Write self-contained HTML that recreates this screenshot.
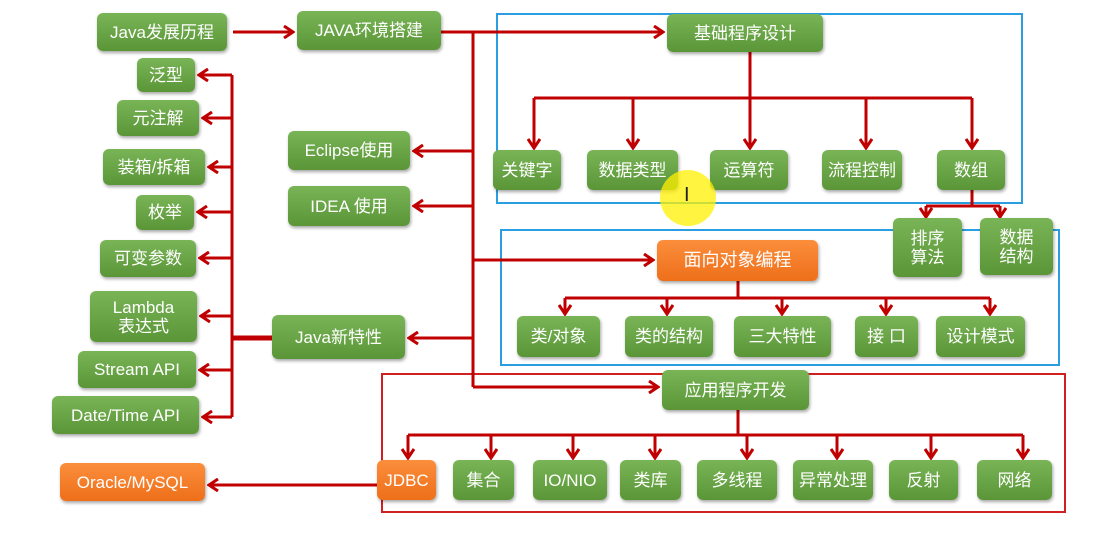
<!DOCTYPE html>
<html><head><meta charset="utf-8">
<style>
html,body{margin:0;padding:0;background:#fff;}
body{width:1111px;height:536px;position:relative;overflow:hidden;font-family:"Liberation Sans","Noto Sans CJK SC",sans-serif;}
.n{position:absolute;box-sizing:border-box;border-radius:6px;background:linear-gradient(#79b557,#5a9637);color:#fff;display:flex;align-items:center;justify-content:center;text-align:center;font-size:17px;line-height:19px;box-shadow:1px 2px 3px rgba(0,0,0,0.35);}
.o{background:linear-gradient(#fb8e3c,#ee6f1a);}
.b{position:absolute;box-sizing:border-box;}
svg{position:absolute;left:0;top:0;}
</style></head><body>
<div class="b" style="left:496px;top:13px;width:527px;height:191px;border:2px solid #2a9ee0"></div>
<div class="b" style="left:500px;top:229px;width:560px;height:137px;border:2px solid #2a9ee0"></div>
<div class="b" style="left:381px;top:373px;width:685px;height:140px;border:2px solid #d02020"></div>
<svg width="1111" height="536">
<defs><marker id="a" markerWidth="12" markerHeight="14" refX="10" refY="7" orient="auto" markerUnits="userSpaceOnUse"><path d="M1,1 L10,7 L1,13" fill="none" stroke="#c00000" stroke-width="3"/></marker></defs>
<g stroke="#c00000" stroke-width="3" fill="none">
<line x1="233" y1="32" x2="293" y2="32" marker-end="url(#a)"/>
<polyline points="441,32 473,32 473,387"/>
<line x1="473" y1="32" x2="663" y2="32" marker-end="url(#a)"/>
<line x1="473" y1="151" x2="414" y2="151" marker-end="url(#a)"/>
<line x1="473" y1="206" x2="414" y2="206" marker-end="url(#a)"/>
<line x1="473" y1="260" x2="653" y2="260" marker-end="url(#a)"/>
<line x1="473" y1="338" x2="409" y2="338" marker-end="url(#a)"/>
<line x1="473" y1="387" x2="658" y2="387" marker-end="url(#a)"/>
<line x1="232" y1="75" x2="232" y2="417"/>
<line x1="232" y1="338" x2="272" y2="338" stroke-width="5"/>
<line x1="232" y1="75" x2="199" y2="75" marker-end="url(#a)"/>
<line x1="232" y1="118" x2="203" y2="118" marker-end="url(#a)"/>
<line x1="232" y1="167" x2="209" y2="167" marker-end="url(#a)"/>
<line x1="232" y1="212" x2="198" y2="212" marker-end="url(#a)"/>
<line x1="232" y1="258" x2="200" y2="258" marker-end="url(#a)"/>
<line x1="232" y1="316" x2="201" y2="316" marker-end="url(#a)"/>
<line x1="232" y1="370" x2="200" y2="370" marker-end="url(#a)"/>
<line x1="232" y1="417" x2="203" y2="417" marker-end="url(#a)"/>
<polyline points="750,52 750,98"/>
<line x1="534" y1="98" x2="972" y2="98"/>
<line x1="534" y1="98" x2="534" y2="148" marker-end="url(#a)"/>
<line x1="633" y1="98" x2="633" y2="148" marker-end="url(#a)"/>
<line x1="750" y1="98" x2="750" y2="148" marker-end="url(#a)"/>
<line x1="866" y1="98" x2="866" y2="148" marker-end="url(#a)"/>
<line x1="972" y1="98" x2="972" y2="148" marker-end="url(#a)"/>
<polyline points="972,190 972,206"/>
<line x1="926" y1="206" x2="1000" y2="206"/>
<line x1="926" y1="206" x2="926" y2="217" marker-end="url(#a)"/>
<line x1="1000" y1="206" x2="1000" y2="217" marker-end="url(#a)"/>
<line x1="738" y1="281" x2="738" y2="298"/>
<line x1="565" y1="298" x2="990" y2="298"/>
<line x1="565" y1="298" x2="565" y2="314" marker-end="url(#a)"/>
<line x1="667" y1="298" x2="667" y2="314" marker-end="url(#a)"/>
<line x1="782" y1="298" x2="782" y2="314" marker-end="url(#a)"/>
<line x1="886" y1="298" x2="886" y2="314" marker-end="url(#a)"/>
<line x1="990" y1="298" x2="990" y2="314" marker-end="url(#a)"/>
<line x1="738" y1="410" x2="738" y2="435"/>
<line x1="408" y1="435" x2="1023" y2="435"/>
<line x1="408" y1="435" x2="408" y2="458" marker-end="url(#a)"/>
<line x1="491" y1="435" x2="491" y2="458" marker-end="url(#a)"/>
<line x1="573" y1="435" x2="573" y2="458" marker-end="url(#a)"/>
<line x1="655" y1="435" x2="655" y2="458" marker-end="url(#a)"/>
<line x1="747" y1="435" x2="747" y2="458" marker-end="url(#a)"/>
<line x1="837" y1="435" x2="837" y2="458" marker-end="url(#a)"/>
<line x1="931" y1="435" x2="931" y2="458" marker-end="url(#a)"/>
<line x1="1023" y1="435" x2="1023" y2="458" marker-end="url(#a)"/>
<line x1="377" y1="485" x2="209" y2="485" marker-end="url(#a)"/>
</g>
</svg>
<div class="n" style="left:97px;top:13px;width:130px;height:38px">Java发展历程</div>
<div class="n" style="left:297px;top:11px;width:144px;height:39px">JAVA环境搭建</div>
<div class="n" style="left:137px;top:58px;width:58px;height:34px">泛型</div>
<div class="n" style="left:117px;top:100px;width:82px;height:36px">元注解</div>
<div class="n" style="left:103px;top:149px;width:102px;height:36px">装箱/拆箱</div>
<div class="n" style="left:136px;top:195px;width:58px;height:35px">枚举</div>
<div class="n" style="left:100px;top:240px;width:96px;height:37px">可变参数</div>
<div class="n" style="left:90px;top:291px;width:107px;height:51px">Lambda<br>表达式</div>
<div class="n" style="left:78px;top:351px;width:118px;height:37px">Stream API</div>
<div class="n" style="left:52px;top:396px;width:147px;height:38px">Date/Time API</div>
<div class="n o" style="left:60px;top:463px;width:145px;height:38px">Oracle/MySQL</div>
<div class="n" style="left:288px;top:131px;width:122px;height:39px">Eclipse使用</div>
<div class="n" style="left:288px;top:186px;width:122px;height:40px">IDEA 使用</div>
<div class="n" style="left:272px;top:315px;width:133px;height:44px">Java新特性</div>
<div class="n" style="left:667px;top:14px;width:156px;height:38px">基础程序设计</div>
<div class="n" style="left:493px;top:150px;width:68px;height:40px">关键字</div>
<div class="n" style="left:587px;top:150px;width:91px;height:40px">数据类型</div>
<div class="n" style="left:710px;top:150px;width:78px;height:40px">运算符</div>
<div class="n" style="left:822px;top:150px;width:80px;height:40px">流程控制</div>
<div class="n" style="left:937px;top:150px;width:68px;height:40px">数组</div>
<div class="n" style="left:893px;top:218px;width:69px;height:59px">排序<br>算法</div>
<div class="n" style="left:980px;top:218px;width:73px;height:57px">数据<br>结构</div>
<div class="n o" style="left:657px;top:240px;width:161px;height:41px;font-size:18px">面向对象编程</div>
<div class="n" style="left:517px;top:316px;width:83px;height:41px">类/对象</div>
<div class="n" style="left:625px;top:316px;width:88px;height:41px">类的结构</div>
<div class="n" style="left:734px;top:316px;width:97px;height:41px">三大特性</div>
<div class="n" style="left:855px;top:316px;width:63px;height:41px">接 口</div>
<div class="n" style="left:936px;top:316px;width:89px;height:41px">设计模式</div>
<div class="n" style="left:662px;top:370px;width:147px;height:40px">应用程序开发</div>
<div class="n o" style="left:377px;top:460px;width:59px;height:40px">JDBC</div>
<div class="n" style="left:453px;top:460px;width:61px;height:40px">集合</div>
<div class="n" style="left:533px;top:460px;width:74px;height:40px">IO/NIO</div>
<div class="n" style="left:620px;top:460px;width:61px;height:40px">类库</div>
<div class="n" style="left:697px;top:460px;width:80px;height:40px">多线程</div>
<div class="n" style="left:793px;top:460px;width:80px;height:40px">异常处理</div>
<div class="n" style="left:889px;top:460px;width:69px;height:40px">反射</div>
<div class="n" style="left:977px;top:460px;width:75px;height:40px">网络</div>
<div style="position:absolute;left:660px;top:170px;width:56px;height:56px;border-radius:50%;background:rgba(255,240,0,0.75)"></div>
<div style="position:absolute;left:684px;top:184px;font-size:20px;color:#222">I</div>
</body></html>
